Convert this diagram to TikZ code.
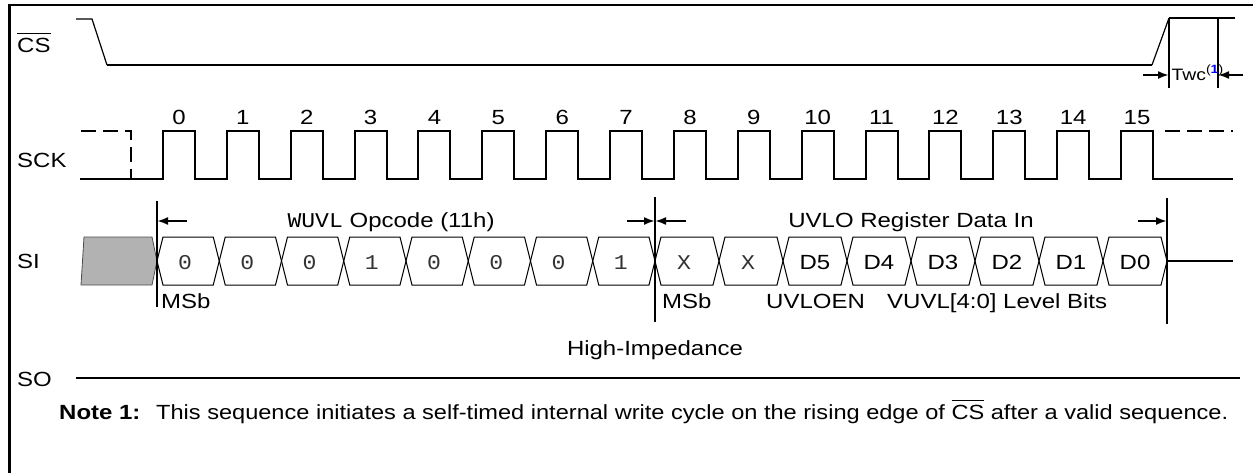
\documentclass[tikz,border=0pt]{standalone}
\usepackage{fontspec}
\setmainfont[FakeStretch=1.17]{Liberation Sans}
\newfontfamily\notef[FakeStretch=1.15]{Liberation Sans}
\newfontfamily\monof[FakeStretch=1.1]{Liberation Mono}
\usetikzlibrary{arrows.meta}
\newcommand\barred[1]{\vbox{\hrule height 1.3pt\kern 3.5pt\hbox{#1}}}
\begin{document}
\begin{tikzpicture}[x=1pt,y=-1pt,
  font=\fontsize{20.5}{24}\selectfont,
  frame/.style={line width=2.5pt},
  wave/.style={line width=2pt},
  thinwave/.style={line width=1.2pt},
  dashwave/.style={line width=2pt,dash pattern=on 15pt off 7pt},
  cell/.style={line width=1pt},
  marker/.style={line width=2pt},
  dimarrow/.style={line width=2pt,-{Latex[length=11pt,width=8pt]}},
  lbl/.style={anchor=base west,inner sep=0pt},
  ctr/.style={anchor=base,inner sep=0pt},
  bits/.style={anchor=base,inner sep=0pt,font=\monof\fontsize{21}{24}\selectfont,text=black!80}]
\useasboundingbox (0,0) rectangle (1253,472);

% frame
\draw[frame] (9.5,480) -- (9.5,5) -- (1260,5);

% signal labels
\node[lbl] (cs)  at (17,52)  {\barred{CS}};
\node[lbl] (sck) at (17,167) {SCK};
\node[lbl] (si)  at (17,268) {SI};
\node[lbl] (so)  at (17,386) {SO};

% CS waveform
\draw[thinwave] (76,19) -- (92,19) -- (107,65);
\draw[wave] (107,65) -- (1152,65);
\draw[thinwave] (1152,65) -- (1169,18);
\draw[wave] (1169,18) -- (1235,18);

% Twc
\coordinate (tw1t) at (1169,18);
\coordinate (tw1b) at (1169,88);
\coordinate (tw2t) at (1218,18);
\coordinate (tw2b) at (1218,88);
\draw[marker] (tw1t) -- (tw1b);
\draw[marker] (tw2t) -- (tw2b);
\coordinate (twa) at (1143,75);
\coordinate (twb) at (1243,75);
\draw[dimarrow] (twa) -- (1169,75);
\draw[dimarrow] (twb) -- (1218,75);
\node[lbl] (twc) at (1171.5,80) {\fontsize{16.5}{17}\selectfont Twc\raisebox{7pt}{\fontsize{12}{13}\selectfont(\textbf{\color{blue}1})}};

% SCK waveform
\draw[dashwave] (81,131) -- (131,131) -- (131,179);
\draw[wave] (80,179) foreach \k in {0,...,15} {
   -- ({163+63.87*\k},179) -- ({163+63.87*\k},131) -- ({195+63.87*\k},131) -- ({195+63.87*\k},179) } -- (1233,179);
\draw[dashwave] (1165,131) -- (1233,131);
\foreach \k in {0,...,15} {
  \node[ctr] (n\k) at ({179+63.87*\k},124) {\k};
}

% SI bus
\filldraw[fill=black!30,draw=black!70,line width=0.8pt] (84,237) -- (152,237) -- (157,261) -- (152,285) -- (81,285) -- cycle;
\foreach \k/\t in {0/0,1/0,2/0,3/1,4/0,5/0,6/0,7/1,8/X,9/X,10/D5,11/D4,12/D3,13/D2,14/D1,15/D0} {
  \pgfmathsetmacro\L{\k<8 ? 157+62.25*\k : 655+64*(\k-8)}
  \pgfmathsetmacro\R{\k<7 ? 157+62.25*(\k+1) : 655+64*(\k-7)}
  \draw[cell] (\L,261) -- (\L+6,237) -- (\R-6,237) -- (\R,261) -- (\R-6,285) -- (\L+6,285) -- cycle;
  \pgfmathsetmacro\C{(\L+\R)/2}
  \ifnum\k<10
    \node[bits] (b\k) at (\C-3,269) {\t};
  \else
    \node[ctr] (b\k) at (\C,269) {\t};
  \fi
}
\draw[wave] (1167,261) -- (1233,261);

% markers and arrows
\draw[marker] (157,201) -- (157,307);
\draw[marker] (655,197) -- (655,322);
\draw[marker] (1167,198) -- (1167,324);
\draw[dimarrow] (187,221) -- (157,221);
\draw[dimarrow] (627,221) -- (655,221);
\draw[dimarrow] (686,221) -- (655,221);
\draw[dimarrow] (1138,221) -- (1167,221);

% annotations
\node[ctr] (op)  at (391,227) {{\monof\fontsize{21}{24}\selectfont WUVL} Opcode (11h)};
\node[ctr] (dat) at (911,227) {UVLO Register Data In};
\node[lbl] (msb1) at (161,308) {MSb};
\node[lbl] (msb2) at (662,308) {MSb};
\node[lbl] (uvl) at (766,308) {UVLOEN};
\node[lbl] (lvl) at (887,308) {VUVL[4:0] Level Bits};
\node[ctr] (hiz) at (655,355) {High-Impedance};

% SO
\draw[wave] (76,378) -- (1240,378);

% note
\node[lbl] (note) at (59,419) {\textbf{Note 1:}};
\node[lbl] (notetxt) at (156,419) {\notef This sequence initiates a self-timed internal write cycle on the rising edge of \barred{CS} after a valid sequence.};
\end{tikzpicture}
\end{document}
